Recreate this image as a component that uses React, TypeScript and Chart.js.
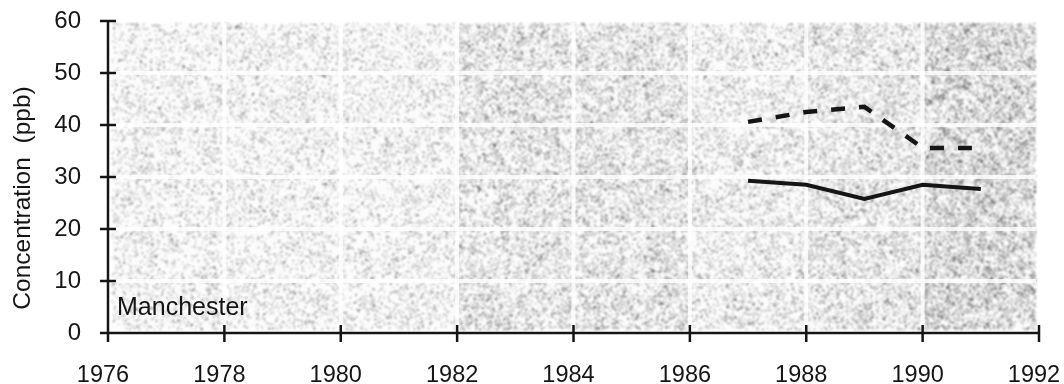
import React, { useEffect, useRef } from "react";
import { Chart, registerables } from "chart.js";

Chart.register(...registerables);

// Annual mean concentrations, Manchester
const years = [1987, 1988, 1989, 1990, 1991];
const dashedSeries = [40.6, 42.5, 43.5, 35.6, 35.6];
const solidSeries = [29.3, 28.5, 25.8, 28.5, 27.7];

// Axis ranges and tick steps
const xTicks = [1976, 1978, 1980, 1982, 1984, 1986, 1988, 1990, 1992];
const yTicks = [0, 10, 20, 30, 40, 50, 60];

// Shading density of the stippled panel background by year band
const bandEdges = [1976, 1982, 1986, 1988, 1990, 1992];
const bandDensity = [0.09, 0.17, 0.12, 0.16, 0.25];

const FONT = "'Liberation Sans', Arial, Helvetica, sans-serif";
const INK = "#151515";

function hash(x: number, y: number): number {
  let h = Math.imul(x, 374761393) + Math.imul(y, 668265263);
  h = Math.imul(h ^ (h >>> 13), 1274126177);
  h = h ^ (h >>> 16);
  return (h >>> 0) / 4294967296;
}

// Smooth value noise used to make the stipple mottled
function valueNoise(x: number, y: number, cell: number): number {
  const gx = Math.floor(x / cell);
  const gy = Math.floor(y / cell);
  const fx = x / cell - gx;
  const fy = y / cell - gy;
  const a = hash(gx + 31, gy + 17);
  const b = hash(gx + 32, gy + 17);
  const c = hash(gx + 31, gy + 18);
  const d = hash(gx + 32, gy + 18);
  const sx = fx * fx * (3 - 2 * fx);
  const sy = fy * fy * (3 - 2 * fy);
  return (a * (1 - sx) + b * sx) * (1 - sy) + (c * (1 - sx) + d * sx) * sy;
}

// Stippled background with white grid bands
const stipplePlugin = {
  id: "stipple",
  beforeDatasetsDraw(chart: any) {
    const { ctx } = chart;
    const xs = chart.scales.x;
    const ys = chart.scales.y;
    const x0 = Math.round(xs.getPixelForValue(1976)) + 4;
    const x1 = Math.round(xs.getPixelForValue(1992)) - 3;
    const y0 = Math.round(ys.getPixelForValue(60)) + 2;
    const y1 = Math.round(ys.getPixelForValue(0)) - 3;
    const w = x1 - x0;
    const h = y1 - y0;
    if (!chart.$stipple) {
      const off = document.createElement("canvas");
      off.width = w;
      off.height = h;
      const octx = off.getContext("2d")!;
      const img = octx.createImageData(w, h);
      for (let py = 0; py < h; py++) {
        for (let px = 0; px < w; px++) {
          const year = xs.getValueForPixel(x0 + px);
          let d = bandDensity[0];
          for (let b = 0; b < bandDensity.length; b++) {
            if (year >= bandEdges[b] && year < bandEdges[b + 1]) d = bandDensity[b];
          }
          const m = 0.35 + 1.3 * valueNoise(px, py, 6);
          const r = hash(px, py);
          const r2 = hash(px + 7919, py + 104729);
          let v = 255;
          if (r < d * m) v = 255 - (90 + Math.floor(r2 * 120));
          else v = 255 - Math.floor(r2 * 8);
          const i = (py * w + px) * 4;
          img.data[i] = v;
          img.data[i + 1] = v;
          img.data[i + 2] = v;
          img.data[i + 3] = 255;
        }
      }
      octx.putImageData(img, 0, 0);
      chart.$stipple = off;
    }
    ctx.save();
    ctx.filter = "blur(1px)";
    ctx.drawImage(chart.$stipple, x0, y0);
    ctx.filter = "none";
    ctx.fillStyle = "rgba(255,255,255,0.8)";
    for (const t of xTicks) {
      if (t <= 1976 || t >= 1992) continue;
      const px = xs.getPixelForValue(t);
      ctx.fillRect(px - 2, y0, 4, h);
    }
    for (const t of yTicks) {
      if (t <= 0 || t >= 60) continue;
      const py = ys.getPixelForValue(t);
      ctx.fillRect(x0, py - 2, w, 4);
    }
    ctx.restore();
  },
};

// Axes drawn as lines with tick marks crossing them, plus the labels
const axesPlugin = {
  id: "crossAxes",
  afterDraw(chart: any) {
    const { ctx } = chart;
    const xs = chart.scales.x;
    const ys = chart.scales.y;
    const ax = xs.getPixelForValue(1976);
    const ay = ys.getPixelForValue(0);
    const right = xs.getPixelForValue(1992);
    const top = ys.getPixelForValue(60);
    ctx.save();
    ctx.strokeStyle = INK;
    ctx.lineWidth = 2.5;
    ctx.lineCap = "butt";
    ctx.beginPath();
    ctx.moveTo(ax, top);
    ctx.lineTo(ax, ay + 1);
    ctx.moveTo(ax - 1, ay);
    ctx.lineTo(right + 1, ay);
    for (const t of yTicks) {
      const py = ys.getPixelForValue(t);
      ctx.moveTo(ax - 8, py);
      ctx.lineTo(ax + 8, py);
    }
    for (const t of xTicks) {
      const px = xs.getPixelForValue(t);
      ctx.moveTo(px, ay - 8);
      ctx.lineTo(px, ay + 9);
    }
    ctx.stroke();

    ctx.fillStyle = INK;
    ctx.font = `25px ${FONT}`;
    ctx.textAlign = "left";
    ctx.textBaseline = "middle";
    ctx.fillText("Manchester", ax + 9, ys.getPixelForValue(4.8));

    ctx.font = `24.5px ${FONT}`;
    ctx.translate(23, 198);
    ctx.rotate(-Math.PI / 2);
    ctx.textAlign = "center";
    ctx.fillText("Concentration  (ppb)", 0, 0);
    ctx.restore();
  },
};

export default function App() {
  const ref = useRef<HTMLCanvasElement | null>(null);

  useEffect(() => {
    document.body.style.margin = "0";
    const canvas = ref.current!;
    const chart = new Chart(canvas, {
      type: "line",
      data: {
        datasets: [
          {
            data: years.map((x, i) => ({ x, y: dashedSeries[i] })),
            borderColor: INK,
            borderWidth: 4.5,
            borderDash: [14, 14],
            borderCapStyle: "butt",
            pointRadius: 0,
            tension: 0,
          },
          {
            data: years.map((x, i) => ({ x, y: solidSeries[i] })),
            borderColor: INK,
            borderWidth: 4,
            pointRadius: 0,
            tension: 0,
          },
        ],
      },
      options: {
        animation: false,
        responsive: false,
        layout: { padding: { top: 21, right: 25, left: 0, bottom: 0 } },
        plugins: { legend: { display: false }, tooltip: { enabled: false } },
        scales: {
          x: {
            type: "linear",
            min: 1976,
            max: 1992,
            afterBuildTicks: (scale: any) => {
              scale.ticks = xTicks.map((v) => ({ value: v }));
            },
            afterFit: (scale: any) => {
              scale.height = 51;
              scale.paddingLeft = 0;
              scale.paddingRight = 0;
            },
            grid: { display: false, drawTicks: false },
            border: { display: false },
            ticks: {
              color: INK,
              font: { family: FONT, size: 23.5 },
              padding: 28,
              labelOffset: -5,
              maxRotation: 0,
              autoSkip: false,
              callback: (v: any) => String(v),
            },
          },
          y: {
            type: "linear",
            min: 0,
            max: 60,
            afterBuildTicks: (scale: any) => {
              scale.ticks = yTicks.map((v) => ({ value: v }));
            },
            afterFit: (scale: any) => {
              scale.width = 108;
              scale.paddingTop = 0;
              scale.paddingBottom = 0;
            },
            grid: { display: false, drawTicks: false },
            border: { display: false },
            ticks: {
              color: INK,
              font: { family: FONT, size: 24 },
              padding: 27,
            },
          },
        },
      },
      plugins: [stipplePlugin, axesPlugin],
    });
    return () => chart.destroy();
  }, []);

  return <canvas ref={ref} width={1064} height={384} style={{ display: "block" }} />;
}
